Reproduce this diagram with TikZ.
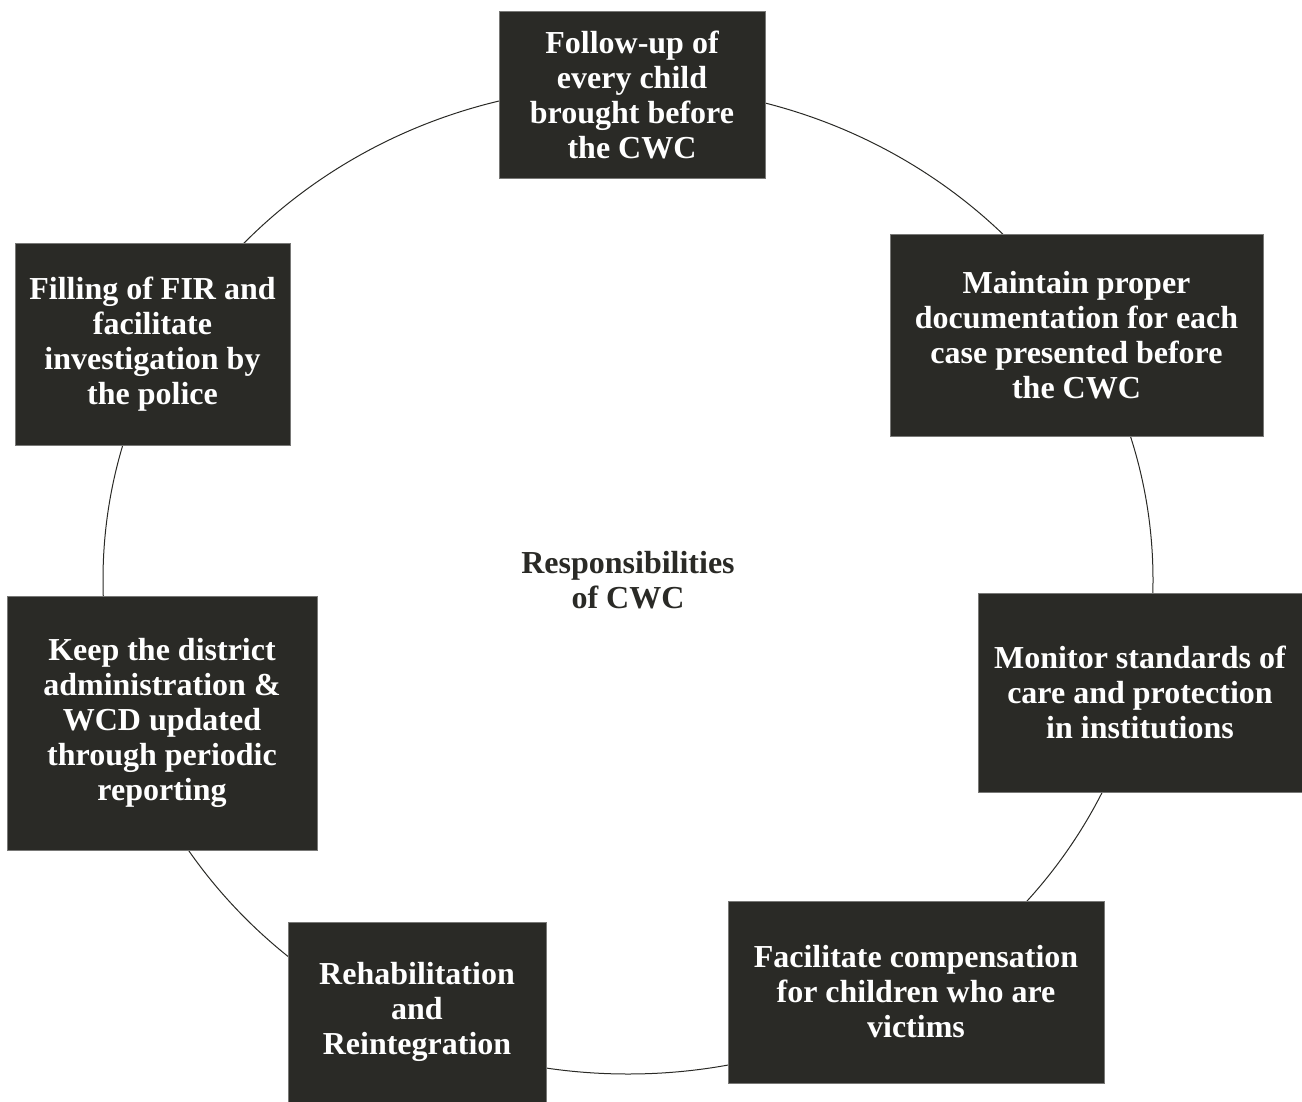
\documentclass[tikz,border=0pt]{standalone}
\usepackage{fontspec}
\setmainfont{Liberation Serif}
\usepackage{tikz}
\usetikzlibrary{positioning}
\definecolor{ink}{RGB}{42,42,38}
\definecolor{rim}{RGB}{120,120,118}
\tikzset{
  duty/.style={rectangle,draw=rim,line width=0.4pt,fill=ink,text=white,align=center,
    font=\fontsize{16}{17.5}\selectfont\bfseries,inner sep=0pt},
  hub/.style={align=center,text=ink,font=\fontsize{16}{17.5}\selectfont\bfseries},
  ring/.style={draw=ink,line width=0.5pt},
}
\begin{document}
\begin{tikzpicture}[x=0.5pt,y=-0.5pt]
% ring of duties round the committee
\useasboundingbox (0,0) rectangle (1302,1102);
\draw[ring] (628,580) ellipse [x radius=525, y radius=494];
\node[hub] (resp) at (628,580) {Responsibilities\\of CWC};
\node[duty,minimum width=133pt,minimum height=83.5pt] (fup) at (632,94.5)
  {Follow-up of\\every child\\brought before\\the CWC};
\node[duty,minimum width=186.5pt,minimum height=101pt] (docu) at (1076.5,335)
  {Maintain proper\\documentation for each\\case presented before\\the CWC};
\node[duty,minimum width=162pt,minimum height=99.5pt] (mon) at (1140,692.5)
  {Monitor standards of\\care and protection\\in institutions};
\node[duty,minimum width=188pt,minimum height=91pt] (comp) at (916,992)
  {Facilitate compensation\\for children who are\\victims};
\node[duty,minimum width=129pt,minimum height=90pt] (rehab) at (417,1012)
  {Rehabilitation\\and\\Reintegration};
\node[duty,minimum width=155pt,minimum height=127pt] (keep) at (162,723)
  {Keep the district\\administration \&\\WCD updated\\through periodic\\reporting};
\node[duty,minimum width=137.5pt,minimum height=101pt] (fir) at (152.5,344)
  {Filling of FIR and\\facilitate\\investigation by\\the police};
\end{tikzpicture}
\end{document}
